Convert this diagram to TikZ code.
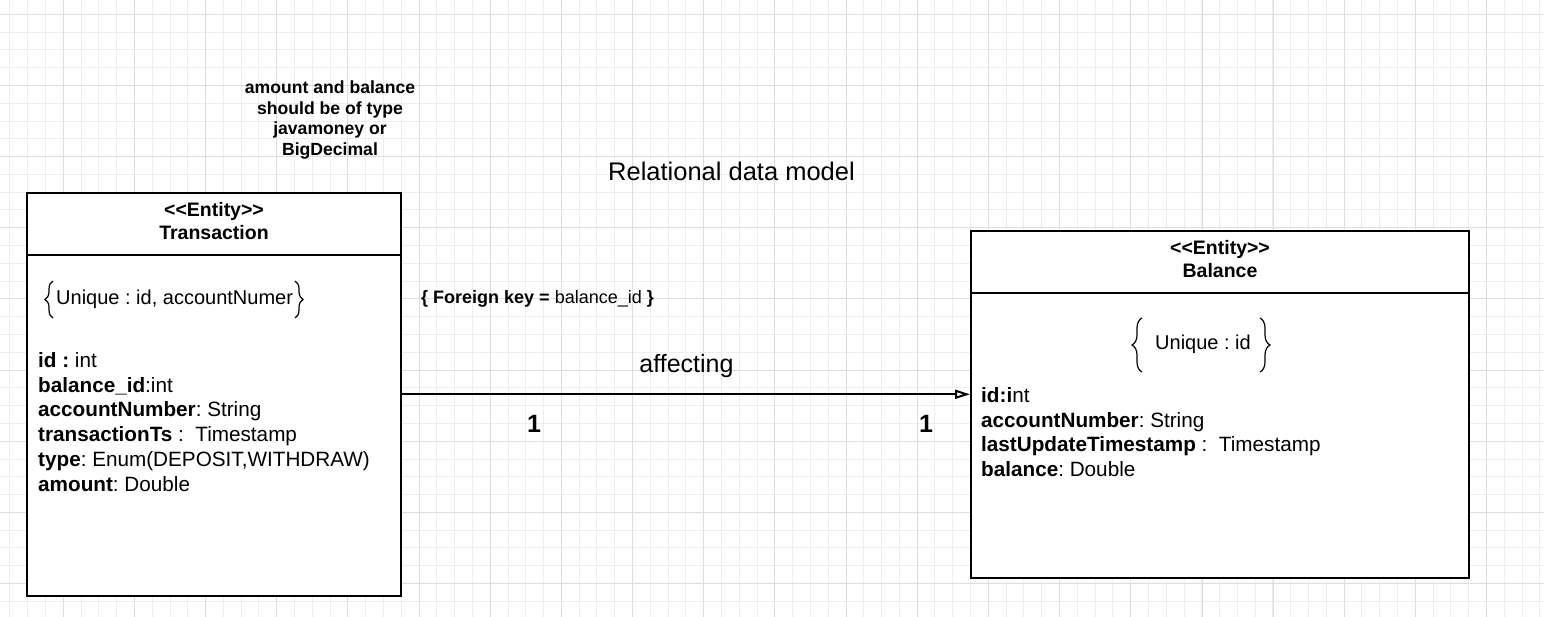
\documentclass[tikz,border=0pt]{standalone}
\usepackage{fontspec}
\setmainfont{Liberation Sans}[Ligatures=TeXOff]
\usetikzlibrary{arrows.meta,decorations.pathreplacing}
\definecolor{gridminor}{HTML}{EEEEEE}
\definecolor{gridmajor}{HTML}{DDDDDD}
\frenchspacing
\begin{document}
\begin{tikzpicture}[x=1pt,y=-1pt,
  minorgrid/.style={draw=gridminor,line width=1pt},
  majorgrid/.style={draw=gridmajor,line width=1pt},
  ebox/.style={draw=black,line width=2pt,fill=white,inner sep=0pt,rectangle},
  sepline/.style={draw=black,line width=2pt},
  hdr/.style={font=\fontsize{19.5}{23}\selectfont\bfseries,anchor=base,inner sep=0pt},
  attr/.style={font=\fontsize{20.7}{24}\selectfont,anchor=base west,inner sep=0pt},
  lbl/.style={anchor=base,inner sep=0pt},
  bracestyle/.style={draw=black,line width=1.2pt,decorate,decoration={brace,amplitude=#1}},
  rel/.style={draw=black,line width=2pt,-{Triangle[length=15pt,width=9pt,fill=white]}}
]
\useasboundingbox (0,0) rectangle (1544,617);
\fill[white] (0,0) rectangle (1544,617);
% grid
\foreach \i in {0,...,87} \draw[minorgrid] ({-7.9+17.79*\i},0) -- ({-7.9+17.79*\i},617);
\foreach \i in {0,...,35} \draw[minorgrid] (0,{-3.5+17.79*\i}) -- (1544,{-3.5+17.79*\i});
\foreach \i in {0,...,22} \draw[majorgrid] ({-7.9+71.17*\i},0) -- ({-7.9+71.17*\i},617);
\foreach \i in {0,...,8} \draw[majorgrid] (0,{14.3+71.17*\i}) -- (1544,{14.3+71.17*\i});

% note and title
\node[lbl,font=\fontsize{17.6}{21}\selectfont\bfseries] (note1) at (330,93.5) {amount and balance};
\node[lbl,font=\fontsize{17.6}{21}\selectfont\bfseries] (note2) at (330,114.3) {should be of type};
\node[lbl,font=\fontsize{17.6}{21}\selectfont\bfseries] (note3) at (330,135) {javamoney or};
\node[lbl,font=\fontsize{17.6}{21}\selectfont\bfseries] (note4) at (330,155.7) {BigDecimal};
\node[lbl,font=\fontsize{25.5}{30}\selectfont] (title) at (731.5,181) {Relational data model};

% boxes
\node[ebox,minimum width=374pt,minimum height=403pt] (tbox) at (214,394.5) {};
\node[ebox,minimum width=498pt,minimum height=347pt] (bbox) at (1220,404.5) {};
\coordinate (tdiv) at (0,255);
\coordinate (bdiv) at (0,293);
\draw[sepline] (tbox.west |- tdiv) -- (tbox.east |- tdiv);
\draw[sepline] (bbox.west |- bdiv) -- (bbox.east |- bdiv);

% Transaction
\node[hdr] (th1) at (214,217) {<<Entity>>};
\node[hdr] (th2) at (214,240) {Transaction};
\draw[bracestyle=8pt] (53,318) -- (53,281);
\node[attr,font=\fontsize{20}{24}\selectfont] (tuniq) at (56,305) {Unique : id, accountNumer};
\draw[bracestyle=8pt] (295,281) -- (295,318);
\node[attr] (ta1) at (38,367) {\textbf{id :} int};
\node[attr] (ta2) at (38,392) {\textbf{balance\_id}:int};
\node[attr] (ta3) at (38,416.5) {\textbf{accountNumber}: String};
\node[attr] (ta4) at (38,441.5) {\textbf{transactionTs} :\ \ Timestamp};
\node[attr] (ta5) at (38,466.5) {\textbf{type}: Enum(DEPOSIT,WITHDRAW)};
\node[attr] (ta6) at (38,491.5) {\textbf{amount}: Double};

% Balance
\node[hdr] (bh1) at (1220,255) {<<Entity>>};
\node[hdr] (bh2) at (1220,278) {Balance};
\draw[bracestyle=10pt] (1142,372) -- (1142,318);
\node[attr,font=\fontsize{20}{24}\selectfont] (buniq) at (1155,350) {Unique : id};
\draw[bracestyle=10pt] (1260,318) -- (1260,372);
\node[attr] (ba1) at (981,402.7) {\textbf{id:i}nt};
\node[attr] (ba2) at (981,427.3) {\textbf{accountNumber}: String};
\node[attr] (ba3) at (981,451.8) {\textbf{lastUpdateTimestamp} :\ \ Timestamp};
\node[attr] (ba4) at (981,476.3) {\textbf{balance}: Double};

% relation
\coordinate (ay) at (0,394.3);
\draw[rel] (tbox.east |- ay) -- (bbox.west |- ay);
\node[lbl,anchor=base west,font=\fontsize{18}{21}\selectfont] (fk) at (421,304) {\textbf{\{ Foreign key =} balance\_id \textbf{\}}};
\node[lbl,font=\fontsize{25}{30}\selectfont] (aff) at (686.5,373) {affecting};
\node[lbl,font=\fontsize{25}{30}\selectfont\bfseries] (m1) at (534,432) {1};
\node[lbl,font=\fontsize{25}{30}\selectfont\bfseries] (m2) at (926,432) {1};
\end{tikzpicture}
\end{document}
